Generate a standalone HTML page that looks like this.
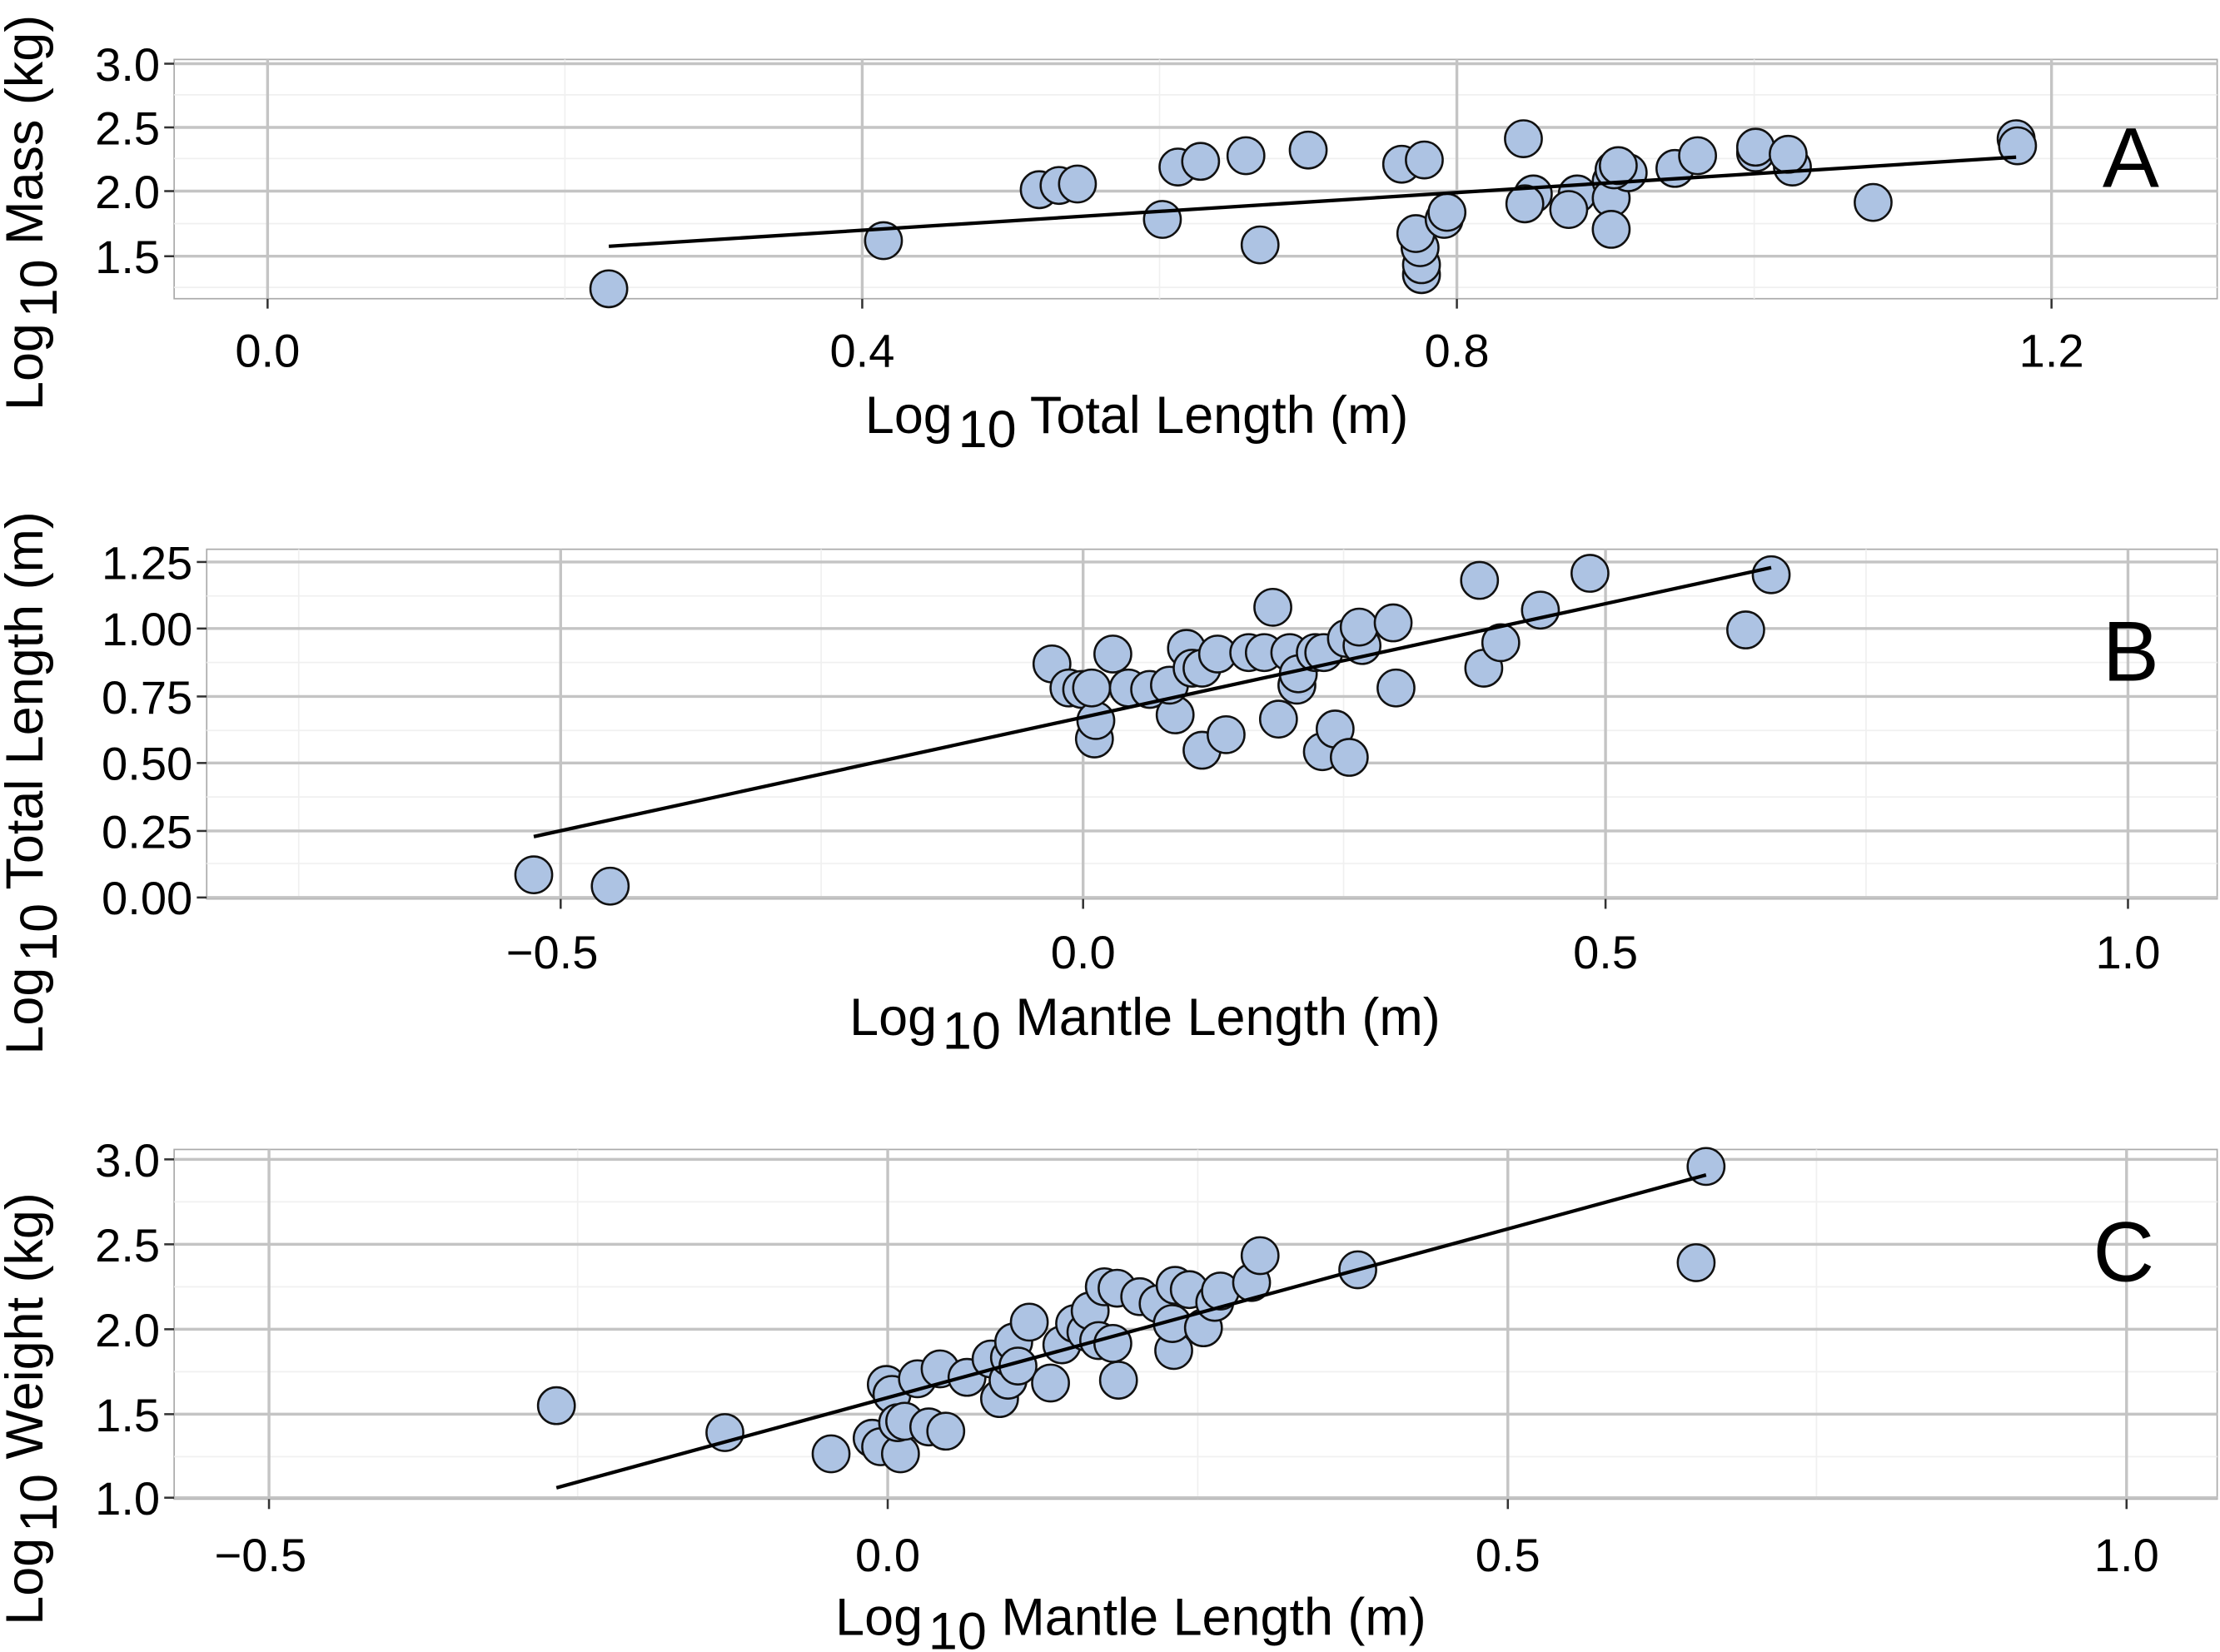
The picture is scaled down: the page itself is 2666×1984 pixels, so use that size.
<!DOCTYPE html>
<html><head><meta charset="utf-8"><style>
html,body{margin:0;padding:0;background:#fff;}
svg{display:block;}
text{font-family:"Liberation Sans",Arial,sans-serif;fill:#000;}
</style></head><body>
<svg width="2666" height="1984" viewBox="0 0 1568 1167" preserveAspectRatio="none" xmlns="http://www.w3.org/2000/svg">
<g id="A">
<rect x="123" y="42" width="1443" height="169" fill="#fff" stroke="#aaa" stroke-width="1"/>
<g stroke="#f0f0f0" stroke-width="1">
<line x1="399" y1="42" x2="399" y2="211"/><line x1="819" y1="42" x2="819" y2="211"/><line x1="1239" y1="42" x2="1239" y2="211"/>
<line x1="123" y1="67" x2="1566" y2="67"/><line x1="123" y1="112" x2="1566" y2="112"/><line x1="123" y1="158" x2="1566" y2="158"/><line x1="123" y1="203" x2="1566" y2="203"/>
</g>
<g stroke="#c4c4c4" stroke-width="2">
<line x1="189" y1="42" x2="189" y2="211"/><line x1="609" y1="42" x2="609" y2="211"/><line x1="1029" y1="42" x2="1029" y2="211"/><line x1="1449" y1="42" x2="1449" y2="211"/>
<line x1="123" y1="45" x2="1566" y2="45"/><line x1="123" y1="90" x2="1566" y2="90"/><line x1="123" y1="135" x2="1566" y2="135"/><line x1="123" y1="181" x2="1566" y2="181"/>
</g>
<g stroke="#333" stroke-width="1.5">
<line x1="116" y1="45" x2="123" y2="45"/><line x1="116" y1="90" x2="123" y2="90"/><line x1="116" y1="135" x2="123" y2="135"/><line x1="116" y1="181" x2="123" y2="181"/>
<line x1="189" y1="211" x2="189" y2="218"/><line x1="609" y1="211" x2="609" y2="218"/><line x1="1029" y1="211" x2="1029" y2="218"/><line x1="1449" y1="211" x2="1449" y2="218"/>
</g>
<g font-size="33" text-anchor="end"><text x="113" y="57">3.0</text><text x="113" y="102">2.5</text><text x="113" y="147">2.0</text><text x="113" y="193">1.5</text></g>
<g font-size="33" text-anchor="middle"><text x="189" y="259">0.0</text><text x="609" y="259">0.4</text><text x="1029" y="259">0.8</text><text x="1449" y="259">1.2</text></g>
<g fill="#adc3e3" stroke="#111" stroke-width="1.5">
<circle cx="430" cy="204" r="13"/><circle cx="624" cy="170" r="13"/><circle cx="734" cy="134" r="13"/><circle cx="748" cy="131" r="13"/><circle cx="761" cy="130" r="13"/><circle cx="821" cy="155" r="13"/><circle cx="832" cy="118" r="13"/><circle cx="848" cy="114" r="13"/><circle cx="880" cy="110" r="13"/><circle cx="890" cy="173" r="13"/><circle cx="924" cy="106" r="13"/><circle cx="990" cy="116" r="13"/><circle cx="1006" cy="113" r="13"/><circle cx="1004" cy="194" r="13"/><circle cx="1004" cy="187" r="13"/><circle cx="1003" cy="175" r="13"/><circle cx="1000" cy="165" r="13"/><circle cx="1020" cy="155" r="13"/><circle cx="1022" cy="150" r="13"/><circle cx="1076" cy="98" r="13"/><circle cx="1083" cy="137" r="13"/><circle cx="1077" cy="144" r="13"/><circle cx="1114" cy="137" r="13"/><circle cx="1108" cy="148" r="13"/><circle cx="1138" cy="128" r="13"/><circle cx="1138" cy="140" r="13"/><circle cx="1138" cy="162" r="13"/><circle cx="1150" cy="122" r="13"/><circle cx="1140" cy="120" r="13"/><circle cx="1143" cy="117" r="13"/><circle cx="1183" cy="119" r="13"/><circle cx="1199" cy="110" r="13"/><circle cx="1240" cy="108" r="13"/><circle cx="1240" cy="104" r="13"/><circle cx="1266" cy="118" r="13"/><circle cx="1263" cy="109" r="13"/><circle cx="1323" cy="143" r="13"/><circle cx="1424" cy="98" r="13"/><circle cx="1425" cy="103" r="13"/>
</g>
<line x1="430" y1="174" x2="1424" y2="111" stroke="#000" stroke-width="2.5"/>
<text x="1505" y="132" font-size="60" text-anchor="middle">A</text>
<text x="611" y="306" font-size="37">Log<tspan dx="4" dy="10">10</tspan><tspan dy="-10"> Total Length (m)</tspan></text>
<text transform="translate(30,290) rotate(-90)" font-size="37">Log<tspan dx="4" dy="10">10</tspan><tspan dy="-10"> Mass (kg)</tspan></text>
</g>

<g id="B">
<rect x="146" y="388" width="1420" height="247" fill="#fff" stroke="#aaa" stroke-width="1"/>
<g stroke="#f0f0f0" stroke-width="1">
<line x1="211" y1="388" x2="211" y2="635"/><line x1="580" y1="388" x2="580" y2="635"/><line x1="949" y1="388" x2="949" y2="635"/><line x1="1318" y1="388" x2="1318" y2="635"/>
<line x1="146" y1="421" x2="1566" y2="421"/><line x1="146" y1="468" x2="1566" y2="468"/><line x1="146" y1="516" x2="1566" y2="516"/><line x1="146" y1="563" x2="1566" y2="563"/><line x1="146" y1="610" x2="1566" y2="610"/>
</g>
<g stroke="#c4c4c4" stroke-width="2">
<line x1="396" y1="388" x2="396" y2="635"/><line x1="765" y1="388" x2="765" y2="635"/><line x1="1134" y1="388" x2="1134" y2="635"/><line x1="1503" y1="388" x2="1503" y2="635"/>
<line x1="146" y1="397" x2="1566" y2="397"/><line x1="146" y1="444" x2="1566" y2="444"/><line x1="146" y1="492" x2="1566" y2="492"/><line x1="146" y1="539" x2="1566" y2="539"/><line x1="146" y1="587" x2="1566" y2="587"/><line x1="146" y1="634" x2="1566" y2="634"/>
</g>
<g stroke="#333" stroke-width="1.5">
<line x1="139" y1="397" x2="146" y2="397"/><line x1="139" y1="444" x2="146" y2="444"/><line x1="139" y1="492" x2="146" y2="492"/><line x1="139" y1="539" x2="146" y2="539"/><line x1="139" y1="587" x2="146" y2="587"/><line x1="139" y1="634" x2="146" y2="634"/>
<line x1="396" y1="635" x2="396" y2="642"/><line x1="765" y1="635" x2="765" y2="642"/><line x1="1134" y1="635" x2="1134" y2="642"/><line x1="1503" y1="635" x2="1503" y2="642"/>
</g>
<g font-size="33" text-anchor="end"><text x="136" y="409">1.25</text><text x="136" y="456">1.00</text><text x="136" y="504">0.75</text><text x="136" y="551">0.50</text><text x="136" y="599">0.25</text><text x="136" y="646">0.00</text></g>
<g font-size="33" text-anchor="middle"><text x="390" y="684">−0.5</text><text x="765" y="684">0.0</text><text x="1134" y="684">0.5</text><text x="1503" y="684">1.0</text></g>
<g fill="#adc3e3" stroke="#111" stroke-width="1.5">
<circle cx="377" cy="618" r="13"/><circle cx="431" cy="626" r="13"/><circle cx="743" cy="469" r="13"/><circle cx="755" cy="486" r="13"/><circle cx="764" cy="487" r="13"/><circle cx="773" cy="522" r="13"/><circle cx="774" cy="509" r="13"/><circle cx="771" cy="486" r="13"/><circle cx="786" cy="462" r="13"/><circle cx="797" cy="486" r="13"/><circle cx="812" cy="487" r="13"/><circle cx="830" cy="505" r="13"/><circle cx="826" cy="484" r="13"/><circle cx="849" cy="530" r="13"/><circle cx="838" cy="458" r="13"/><circle cx="842" cy="472" r="13"/><circle cx="849" cy="472" r="13"/><circle cx="860" cy="462" r="13"/><circle cx="866" cy="519" r="13"/><circle cx="882" cy="461" r="13"/><circle cx="899" cy="429" r="13"/><circle cx="893" cy="461" r="13"/><circle cx="903" cy="508" r="13"/><circle cx="911" cy="461" r="13"/><circle cx="916" cy="484" r="13"/><circle cx="917" cy="476" r="13"/><circle cx="929" cy="461" r="13"/><circle cx="935" cy="461" r="13"/><circle cx="934" cy="531" r="13"/><circle cx="943" cy="515" r="13"/><circle cx="953" cy="535" r="13"/><circle cx="951" cy="451" r="13"/><circle cx="962" cy="456" r="13"/><circle cx="960" cy="443" r="13"/><circle cx="984" cy="440" r="13"/><circle cx="986" cy="486" r="13"/><circle cx="1045" cy="410" r="13"/><circle cx="1048" cy="472" r="13"/><circle cx="1060" cy="454" r="13"/><circle cx="1088" cy="431" r="13"/><circle cx="1123" cy="405" r="13"/><circle cx="1233" cy="445" r="13"/><circle cx="1251" cy="406" r="13"/>
</g>
<line x1="377" y1="591" x2="1251" y2="401" stroke="#000" stroke-width="2.5"/>
<text x="1505" y="481" font-size="60" text-anchor="middle">B</text>
<text x="600" y="731" font-size="37">Log<tspan dx="4" dy="10">10</tspan><tspan dy="-10"> Mantle Length (m)</tspan></text>
<text transform="translate(30,745) rotate(-90)" font-size="37">Log<tspan dx="4" dy="10">10</tspan><tspan dy="-10"> Total Length (m)</tspan></text>
</g>

<g id="C">
<rect x="123" y="812" width="1443" height="247" fill="#fff" stroke="#aaa" stroke-width="1"/>
<g stroke="#f0f0f0" stroke-width="1">
<line x1="408" y1="812" x2="408" y2="1059"/><line x1="846" y1="812" x2="846" y2="1059"/><line x1="1283" y1="812" x2="1283" y2="1059"/>
<line x1="123" y1="849" x2="1566" y2="849"/><line x1="123" y1="909" x2="1566" y2="909"/><line x1="123" y1="969" x2="1566" y2="969"/><line x1="123" y1="1029" x2="1566" y2="1029"/>
</g>
<g stroke="#c4c4c4" stroke-width="2">
<line x1="190" y1="812" x2="190" y2="1059"/><line x1="627" y1="812" x2="627" y2="1059"/><line x1="1065" y1="812" x2="1065" y2="1059"/><line x1="1502" y1="812" x2="1502" y2="1059"/>
<line x1="123" y1="819" x2="1566" y2="819"/><line x1="123" y1="879" x2="1566" y2="879"/><line x1="123" y1="939" x2="1566" y2="939"/><line x1="123" y1="999" x2="1566" y2="999"/><line x1="123" y1="1058" x2="1566" y2="1058"/>
</g>
<g stroke="#333" stroke-width="1.5">
<line x1="116" y1="819" x2="123" y2="819"/><line x1="116" y1="879" x2="123" y2="879"/><line x1="116" y1="939" x2="123" y2="939"/><line x1="116" y1="999" x2="123" y2="999"/><line x1="116" y1="1058" x2="123" y2="1058"/>
<line x1="190" y1="1059" x2="190" y2="1066"/><line x1="627" y1="1059" x2="627" y2="1066"/><line x1="1065" y1="1059" x2="1065" y2="1066"/><line x1="1502" y1="1059" x2="1502" y2="1066"/>
</g>
<g font-size="33" text-anchor="end"><text x="113" y="831">3.0</text><text x="113" y="891">2.5</text><text x="113" y="951">2.0</text><text x="113" y="1011">1.5</text><text x="113" y="1070">1.0</text></g>
<g font-size="33" text-anchor="middle"><text x="184" y="1110">−0.5</text><text x="627" y="1110">0.0</text><text x="1065" y="1110">0.5</text><text x="1502" y="1110">1.0</text></g>
<g fill="#adc3e3" stroke="#111" stroke-width="1.5">
<circle cx="393" cy="993" r="13"/><circle cx="512" cy="1012" r="13"/><circle cx="587" cy="1027" r="13"/><circle cx="616" cy="1016" r="13"/><circle cx="622" cy="1022" r="13"/><circle cx="626" cy="978" r="13"/><circle cx="630" cy="985" r="13"/><circle cx="636" cy="1027" r="13"/><circle cx="634" cy="1005" r="13"/><circle cx="639" cy="1004" r="13"/><circle cx="648" cy="974" r="13"/><circle cx="656" cy="1008" r="13"/><circle cx="664" cy="967" r="13"/><circle cx="668" cy="1011" r="13"/><circle cx="683" cy="973" r="13"/><circle cx="700" cy="960" r="13"/><circle cx="706" cy="988" r="13"/><circle cx="712" cy="975" r="13"/><circle cx="713" cy="959" r="13"/><circle cx="716" cy="948" r="13"/><circle cx="719" cy="965" r="13"/><circle cx="727" cy="934" r="13"/><circle cx="742" cy="977" r="13"/><circle cx="750" cy="950" r="13"/><circle cx="759" cy="935" r="13"/><circle cx="767" cy="941" r="13"/><circle cx="770" cy="926" r="13"/><circle cx="776" cy="947" r="13"/><circle cx="790" cy="975" r="13"/><circle cx="786" cy="949" r="13"/><circle cx="780" cy="909" r="13"/><circle cx="789" cy="910" r="13"/><circle cx="805" cy="916" r="13"/><circle cx="818" cy="921" r="13"/><circle cx="829" cy="954" r="13"/><circle cx="828" cy="935" r="13"/><circle cx="830" cy="908" r="13"/><circle cx="840" cy="911" r="13"/><circle cx="850" cy="938" r="13"/><circle cx="858" cy="920" r="13"/><circle cx="862" cy="912" r="13"/><circle cx="884" cy="906" r="13"/><circle cx="890" cy="887" r="13"/><circle cx="959" cy="897" r="13"/><circle cx="1198" cy="892" r="13"/><circle cx="1205" cy="824" r="13"/>
</g>
<line x1="393" y1="1051" x2="1205" y2="830" stroke="#000" stroke-width="2.5"/>
<text x="1500" y="905" font-size="60" text-anchor="middle">C</text>
<text x="590" y="1155" font-size="37">Log<tspan dx="4" dy="10">10</tspan><tspan dy="-10"> Mantle Length (m)</tspan></text>
<text transform="translate(30,1148) rotate(-90)" font-size="37">Log<tspan dx="4" dy="10">10</tspan><tspan dy="-10"> Weight (kg)</tspan></text>
</g>
</svg>
</body></html>
